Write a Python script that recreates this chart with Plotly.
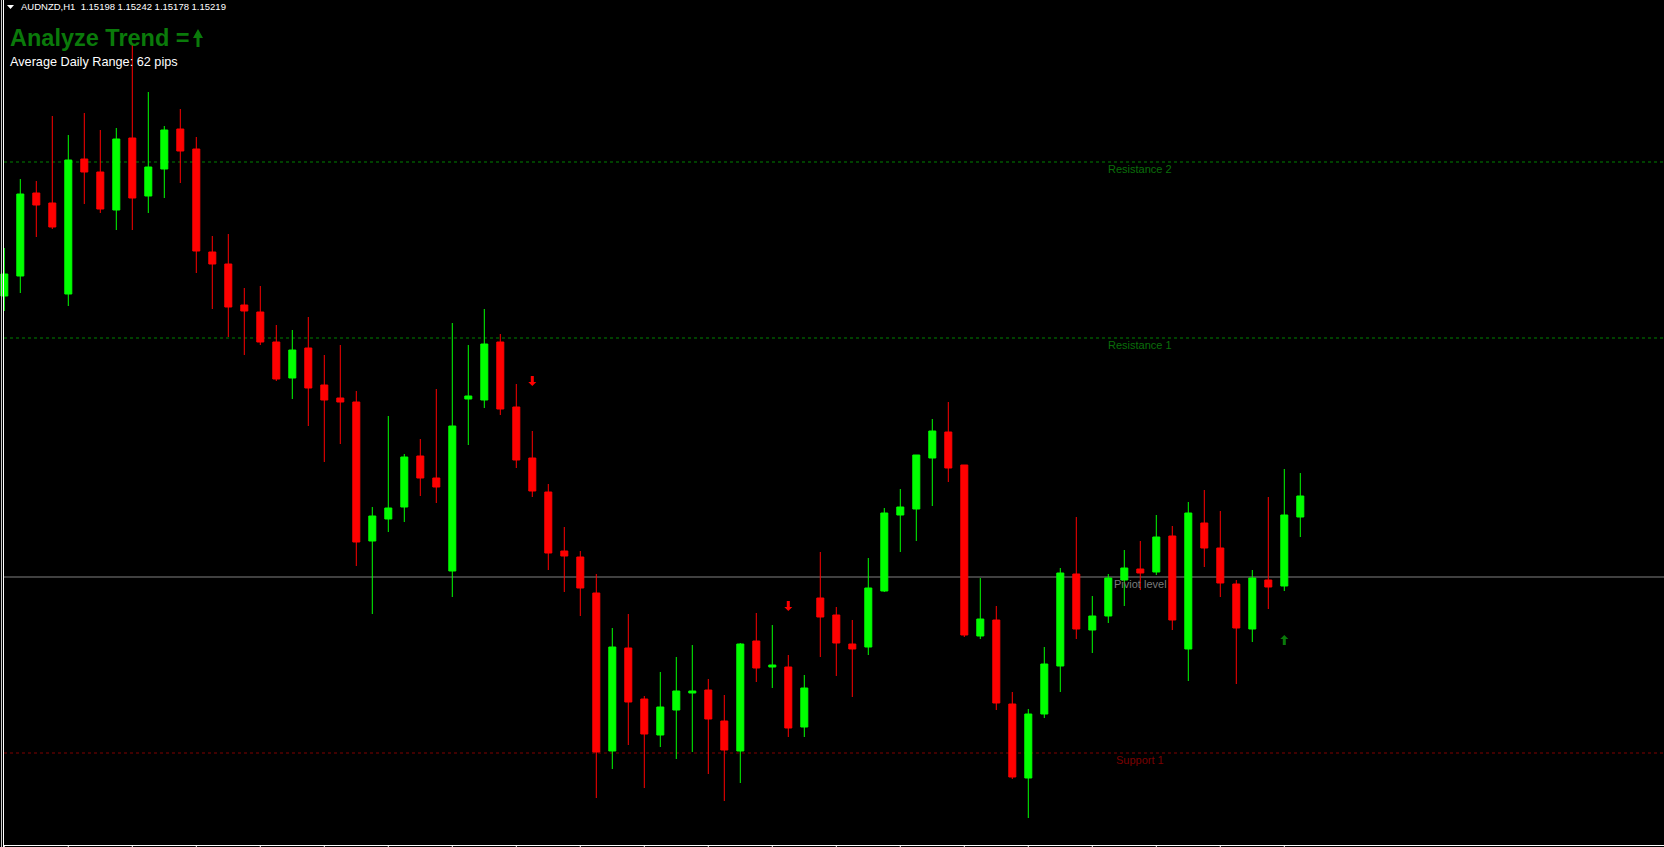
import plotly.graph_objects as go

W, H = 1664, 847

symbol = "AUDNZD,H1"
header_ohlc = ["1.15198", "1.15242", "1.15178", "1.15219"]
title_text = "Analyze Trend ="
adr_text = "Average Daily Range: 62 pips"

open_ = [1.15419, 1.15439, 1.15522, 1.15512, 1.15421, 1.15556, 1.15543, 1.15505, 1.15577, 1.15519,
         1.15546, 1.15586, 1.15566, 1.15463, 1.15451, 1.15410, 1.15403, 1.15373, 1.15337, 1.15367,
         1.15330, 1.15317, 1.15313, 1.15174, 1.15196, 1.15208, 1.15259, 1.15237, 1.15144, 1.15316,
         1.15315, 1.15373, 1.15308, 1.15257, 1.15223, 1.15164, 1.15158, 1.15122, 1.14964, 1.15067,
         1.15016, 1.14980, 1.15005, 1.15022, 1.15025, 1.14994, 1.14964, 1.15074, 1.15048, 1.15048,
         1.14988, 1.15117, 1.15100, 1.15071, 1.15068, 1.15124, 1.15200, 1.15206, 1.15257, 1.15283,
         1.15250, 1.15079, 1.15095, 1.15011, 1.14937, 1.15001, 1.15049, 1.15141, 1.15085, 1.15099,
         1.15135, 1.15146, 1.15143, 1.15179, 1.15066, 1.15192, 1.15167, 1.15131, 1.15086, 1.15135,
         1.15129, 1.15198]
high = [1.15467, 1.15536, 1.15534, 1.15599, 1.15580, 1.15602, 1.15585, 1.15587, 1.15670, 1.15623,
        1.15589, 1.15606, 1.15578, 1.15479, 1.15481, 1.15427, 1.15429, 1.15390, 1.15385, 1.15398,
        1.15360, 1.15370, 1.15324, 1.15208, 1.15299, 1.15261, 1.15276, 1.15326, 1.15392, 1.15370,
        1.15406, 1.15381, 1.15331, 1.15284, 1.15231, 1.15188, 1.15164, 1.15141, 1.15087, 1.15101,
        1.15019, 1.15043, 1.15058, 1.15070, 1.15036, 1.15020, 1.15072, 1.15102, 1.15090, 1.15060,
        1.15040, 1.15163, 1.15108, 1.15095, 1.15157, 1.15207, 1.15226, 1.15260, 1.15296, 1.15313,
        1.15250, 1.15137, 1.15109, 1.15023, 1.15006, 1.15068, 1.15147, 1.15198, 1.15119, 1.15141,
        1.15165, 1.15174, 1.15200, 1.15189, 1.15213, 1.15225, 1.15204, 1.15135, 1.15145, 1.15218,
        1.15246, 1.15242]
low = [1.15404, 1.15422, 1.15478, 1.15486, 1.15409, 1.15511, 1.15502, 1.15485, 1.15485, 1.15502,
       1.15517, 1.15532, 1.15442, 1.15406, 1.15378, 1.15360, 1.15370, 1.15334, 1.15316, 1.15289,
       1.15253, 1.15271, 1.15149, 1.15101, 1.15183, 1.15193, 1.15219, 1.15212, 1.15118, 1.15270,
       1.15307, 1.15300, 1.15247, 1.15218, 1.15145, 1.15123, 1.15099, 1.14917, 1.14946, 1.14970,
       1.14927, 1.14968, 1.14956, 1.14963, 1.14941, 1.14914, 1.14932, 1.15033, 1.15027, 1.14978,
       1.14978, 1.15058, 1.15039, 1.15018, 1.15060, 1.15123, 1.15163, 1.15174, 1.15209, 1.15233,
       1.15078, 1.15076, 1.15005, 1.14936, 1.14897, 1.14997, 1.15023, 1.15076, 1.15062, 1.15092,
       1.15109, 1.15125, 1.15140, 1.15085, 1.15034, 1.15148, 1.15118, 1.15031, 1.15073, 1.15106,
       1.15124, 1.15178]
close = [1.15441, 1.15521, 1.15510, 1.15488, 1.15555, 1.15543, 1.15506, 1.15576, 1.15517, 1.15548,
         1.15585, 1.15564, 1.15464, 1.15451, 1.15408, 1.15404, 1.15373, 1.15336, 1.15365, 1.15327,
         1.15315, 1.15313, 1.15173, 1.15199, 1.15207, 1.15258, 1.15237, 1.15228, 1.15289, 1.15319,
         1.15371, 1.15306, 1.15255, 1.15224, 1.15162, 1.15159, 1.15127, 1.14963, 1.15068, 1.15013,
         1.14981, 1.15008, 1.15024, 1.15024, 1.14996, 1.14965, 1.15071, 1.15047, 1.15050, 1.14987,
         1.15027, 1.15098, 1.15072, 1.15066, 1.15127, 1.15202, 1.15208, 1.15260, 1.15284, 1.15247,
         1.15080, 1.15096, 1.15012, 1.14938, 1.15001, 1.15051, 1.15142, 1.15086, 1.15099, 1.15137,
         1.15147, 1.15142, 1.15178, 1.15095, 1.15202, 1.15167, 1.15132, 1.15087, 1.15137, 1.15128,
         1.15200, 1.15219]
bars = list(range(len(close)))

# pivot levels
level_names = ["Resistance 2", "Resistance 1", "Piviot level", "Support 1"]
level_prices = [1.15553, 1.15377, 1.15138, 1.14962]
level_colors = ["#008000", "#008000", "#808080", "#800000"]
level_label_colors = ["#0a6e0a", "#0a6e0a", "#7a7a7a", "#7a0000"]
level_dash = ["3px,3px", "3px,3px", "solid", "3px,3px"]
label_bar = 71

# signal arrows
sig_bar = [33, 49, 80]
sig_price = [1.15334, 1.15109, 1.15075]
sig_dir = ["down", "down", "up"]
sig_color = ["#ff0000", "#ff0000", "#0a7a0a"]

XMIN, XMAX = -0.269, 103.731
YMIN, YMAX = 1.14868, 1.15715
px_x = (XMAX - XMIN) / W   # data units per pixel (x)
px_y = (YMAX - YMIN) / H   # price per pixel


def pxp(x):
    return x / W


def pyp(y):
    return 1 - y / H


fig = go.Figure()
fig.add_trace(go.Candlestick(
    x=bars, open=open_, high=high, low=low, close=close,
    increasing=dict(line=dict(color="#00ff00", width=1), fillcolor="#00ff00"),
    decreasing=dict(line=dict(color="#ff0000", width=1), fillcolor="#ff0000"),
    whiskerwidth=0, hoverinfo="skip", showlegend=False,
))

shapes = []
annotations = []

for name, p, c, lc, d in zip(level_names, level_prices, level_colors, level_label_colors, level_dash):
    shapes.append(dict(type="line", xref="paper", yref="y", x0=pxp(4), x1=1, y0=p, y1=p,
                       line=dict(color=c, width=1, dash=d), layer="below"))
    annotations.append(dict(x=label_bar, y=p, xref="x", yref="y", text=name, showarrow=False,
                            xanchor="center", yanchor="middle", yshift=-7, borderpad=0,
                            font=dict(family="Liberation Sans", size=11, color=lc)))


def arrow_path(cx, cy, direction, hw=4, sw=1.5, top=5, neck=2, tip=5):
    # cx in data x, cy in price; dimensions in pixels
    s = 1 if direction == "down" else -1
    pts = [(-sw, -top), (sw, -top), (sw, -neck + 3), (hw, -neck + 3), (0, tip), (-hw, -neck + 3), (-sw, -neck + 3)]
    coords = [(cx + dx * px_x, cy - s * dy * px_y) for dx, dy in pts]
    return "M" + " L".join(f"{x:.5f},{y:.6f}" for x, y in coords) + " Z"


for b, p, d, c in zip(sig_bar, sig_price, sig_dir, sig_color):
    shapes.append(dict(type="path", xref="x", yref="y", path=arrow_path(b, p, d),
                       fillcolor=c, line=dict(color=c, width=0)))

# title arrow (paper coords, pixel based)
ta = [(196.5, 47), (199.5, 47), (199.5, 38), (203, 38), (198, 29), (193, 38), (196.5, 38)]
shapes.append(dict(type="path", xref="paper", yref="paper",
                   path="M" + " L".join(f"{pxp(x):.6f},{pyp(y):.6f}" for x, y in ta) + " Z",
                   fillcolor="#0a7a0a", line=dict(color="#0a7a0a", width=0)))

# header triangle
tri = [(7, 5), (14, 5), (10.5, 9)]
shapes.append(dict(type="path", xref="paper", yref="paper",
                   path="M" + " L".join(f"{pxp(x):.6f},{pyp(y):.6f}" for x, y in tri) + " Z",
                   fillcolor="#ffffff", line=dict(color="#ffffff", width=0)))

# frame
shapes.append(dict(type="line", xref="paper", yref="paper", x0=pxp(1.5), x1=pxp(1.5), y0=0, y1=1,
                   line=dict(color="#c8c8c8", width=1)))
shapes.append(dict(type="line", xref="paper", yref="paper", x0=pxp(3.5), x1=pxp(3.5), y0=0, y1=1,
                   line=dict(color="#ffffff", width=1)))
shapes.append(dict(type="line", xref="paper", yref="paper", x0=pxp(3), x1=1, y0=pyp(845.5), y1=pyp(845.5),
                   line=dict(color="#ffffff", width=1)))
for b in range(0, len(bars), 4):
    shapes.append(dict(type="line", xref="x", yref="paper", x0=b, x1=b, y0=pyp(845.5), y1=0,
                       line=dict(color="#ffffff", width=1)))

annotations.append(dict(x=pxp(20), y=pyp(6.7), xref="paper", yref="paper",
                        text=symbol + "&nbsp;&nbsp;" + " ".join(header_ohlc), showarrow=False,
                        xanchor="left", yanchor="middle", borderpad=0,
                        font=dict(family="Liberation Sans", size=9.5, color="#ffffff")))
annotations.append(dict(x=pxp(9), y=pyp(38), xref="paper", yref="paper",
                        text="<b>" + title_text + "</b>", showarrow=False,
                        xanchor="left", yanchor="middle", borderpad=0,
                        font=dict(family="Liberation Sans", size=23.5, color="#0a7a0a")))
annotations.append(dict(x=pxp(9), y=pyp(61.7), xref="paper", yref="paper",
                        text=adr_text, showarrow=False,
                        xanchor="left", yanchor="middle", borderpad=0,
                        font=dict(family="Liberation Sans", size=12.7, color="#ffffff")))

fig.update_layout(
    width=W, height=H,
    margin=dict(l=0, r=0, t=0, b=0, pad=0),
    paper_bgcolor="#000000", plot_bgcolor="#000000",
    xaxis=dict(range=[XMIN, XMAX], visible=False, rangeslider=dict(visible=False), fixedrange=True),
    yaxis=dict(range=[YMIN, YMAX], visible=False, fixedrange=True),
    boxgap=0.375,
    showlegend=False, hovermode=False,
    shapes=shapes, annotations=annotations,
)

fig.write_html("out.html", config={"displayModeBar": False},
               post_script="document.body.style.margin='0';document.body.style.overflow='hidden';")
